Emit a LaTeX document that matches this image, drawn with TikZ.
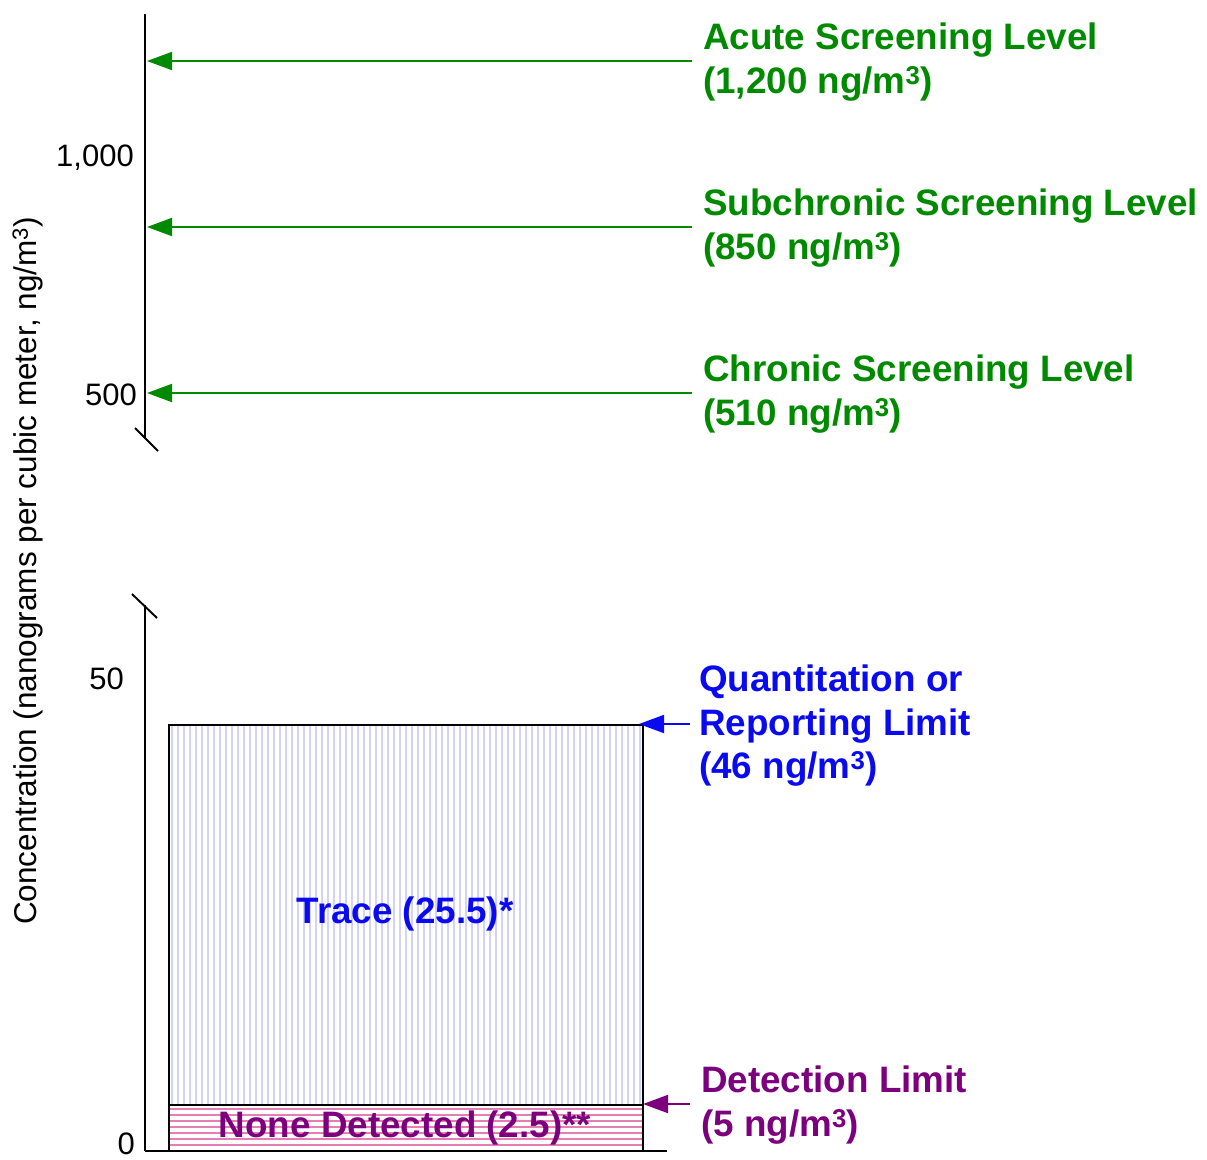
\documentclass[tikz,border=0pt]{standalone}
\usepackage{fontspec}
\setmainfont{Liberation Sans}
\usetikzlibrary{arrows.meta}
\definecolor{lvlgreen}{HTML}{008A00}
\definecolor{qblue}{HTML}{0A0AF0}
\definecolor{dpurple}{HTML}{7C007E}
\definecolor{stripeblue}{HTML}{D2D2FA}
\definecolor{stripepink}{HTML}{E67DB4}
\tikzset{
  axisline/.style={line width=1.9pt, black},
  ticklabel/.style={font=\fontsize{31}{31}\selectfont, anchor=east, inner sep=0pt},
  lvllabel/.style={font=\fontsize{36.8}{43.5}\selectfont\bfseries, text=#1, anchor=west, align=left, inner sep=0pt},
  lvlarrow/.style={draw=#1, line width=1.8pt, -{Triangle[length=25pt, width=18pt]}},
  boxlabel/.style={font=\fontsize{36.8}{44}\selectfont\bfseries, text=#1, inner sep=0pt},
}
\begin{document}
\begin{tikzpicture}[x=1pt, y=-1pt]
\useasboundingbox (0,0) rectangle (1207,1159);

% trace band: vertical light-blue hatching
\begin{scope}
  \clip (168,724) rectangle (642,1104);
  \foreach \i in {0,...,79} {
    \fill[stripeblue] ({171+6*\i},724) rectangle ({173.2+6*\i},1104);
  }
\end{scope}
% non-detect band: horizontal pink hatching
\begin{scope}
  \clip (168,1104) rectangle (642,1150);
  \foreach \j in {0,...,7} {
    \fill[stripepink] (168,{1108+6*\j}) rectangle (642,{1110.2+6*\j});
  }
\end{scope}
\node[draw, line width=1.8pt, minimum width=474pt, minimum height=380pt, anchor=north west, inner sep=0pt] (trace) at (168,724) {};
\node[draw, line width=1.8pt, minimum width=474pt, minimum height=46pt, anchor=north west, inner sep=0pt] (nd) at (168,1104) {};

% upper axis segment with break mark
\coordinate (uaTop) at (145,14);
\coordinate (uaBot) at (145,438);
\draw[axisline] (uaTop) -- (uaBot);
\coordinate (ubA) at (135,428);
\coordinate (ubB) at (158,451);
\draw[axisline] (ubA) -- (ubB);

% lower axis segment with break mark and baseline
\coordinate (laTop) at (145,605);
\coordinate (laBot) at (145,1151);
\draw[axisline] (laTop) -- (laBot);
\coordinate (lbA) at (132,594);
\coordinate (lbB) at (157,618);
\draw[axisline] (lbA) -- (lbB);
\coordinate (baseR) at (667,1151);
\draw[axisline] (laBot) -- (baseR);

% tick labels
\node[ticklabel] (t1000) at (134,158) {1,000};
\node[ticklabel] (t500) at (137,395) {500};
\node[ticklabel] (t50) at (124,679) {50};
\node[ticklabel] (t0) at (135,1144) {0};

% axis title
\node[font=\fontsize{31.5}{32}\selectfont, rotate=90, inner sep=0pt] (ytitle) at (28,571)
  {Concentration (nanograms per cubic meter, ng/m\textsuperscript{3})};

% screening levels
\node[lvllabel=lvlgreen] (acute) at (703,62) {Acute Screening Level\\(1,200 ng/m\textsuperscript{3})};
\node[lvllabel=lvlgreen] (subch) at (703,228) {Subchronic Screening Level\\(850 ng/m\textsuperscript{3})};
\node[lvllabel=lvlgreen] (chron) at (703,394) {Chronic Screening Level\\(510 ng/m\textsuperscript{3})};
\coordinate (acuteHit) at (147,61);
\coordinate (subchHit) at (147,227);
\coordinate (chronHit) at (147,393);
\draw[lvlarrow=lvlgreen] (acute.west |- acuteHit) ++(-11,0) -- (acuteHit);
\draw[lvlarrow=lvlgreen] (subch.west |- subchHit) ++(-11,0) -- (subchHit);
\draw[lvlarrow=lvlgreen] (chron.west |- chronHit) ++(-11,0) -- (chronHit);

% quantitation / reporting limit
\node[lvllabel=qblue] (qlim) at (699,726) {Quantitation or\\Reporting Limit\\(46 ng/m\textsuperscript{3})};
\coordinate (qHit) at (639,724);
\draw[lvlarrow=qblue] (qlim.west |- qHit) ++(-9,0) -- (qHit);

% detection limit
\node[lvllabel=dpurple] (dlim) at (701,1105) {Detection Limit\\(5 ng/m\textsuperscript{3})};
\coordinate (dHit) at (643,1104);
\draw[lvlarrow=dpurple] (dlim.west |- dHit) ++(-11,0) -- (dHit);

% band labels
\node[boxlabel=qblue] (tracelbl) at (405,914) {Trace (25.5)*};
\node[boxlabel=dpurple] (ndlbl) at (405,1128) {None Detected (2.5)**};
\end{tikzpicture}
\end{document}
